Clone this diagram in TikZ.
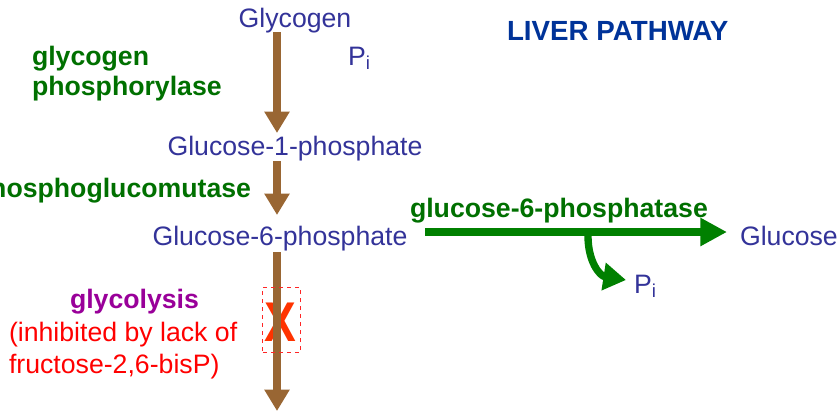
\documentclass[tikz,border=0pt]{standalone}
\usepackage{fontspec}
\setmainfont{Liberation Sans}
\usetikzlibrary{arrows.meta}
\definecolor{txtblue}{RGB}{51,51,153}
\definecolor{hdblue}{RGB}{0,51,153}
\definecolor{enzgreen}{RGB}{0,112,0}
\definecolor{arrgreen}{RGB}{0,128,0}
\definecolor{brownarr}{RGB}{153,102,51}
\definecolor{purp}{RGB}{153,0,153}
\definecolor{xred}{RGB}{255,51,0}
\begin{document}
\begin{tikzpicture}[x=0.75pt,y=-0.75pt,
  every node/.style={inner sep=0pt,outer sep=0pt,font=\fontsize{20}{24}\selectfont},
  metab/.style={text=txtblue},
  enz/.style={text=enzgreen,font=\fontsize{20}{24}\selectfont\bfseries},
  brownline/.style={draw=brownarr,line width=5.8pt,-{Triangle[width=18pt,length=16pt]}},
  greenline/.style={draw=arrgreen,line width=5.5pt,-{Triangle[width=20pt,length=20pt]}}]
\useasboundingbox (0,0) rectangle (838,412);
% metabolites
\node[metab,anchor=base] (glycogen) at (295,27) {Glycogen};
\node[metab,anchor=base west] (pi1) at (348,65) {P\textsubscript{i}};
\node[metab,anchor=base] (g1p) at (295,155) {Glucose-1-phosphate};
\node[metab,anchor=base] (g6p) at (280,245) {Glucose-6-phosphate};
\node[metab,anchor=base west] (glucose) at (740,245) {Glucose};
\node[metab,anchor=base west] (pi2) at (634,293) {P\textsubscript{i}};
% title
\node[anchor=base west,text=hdblue,font=\fontsize{20.8}{24}\selectfont\bfseries] (title) at (507,40) {LIVER PATHWAY};
% enzymes
\node[enz,anchor=base west] (gp1) at (32,65) {glycogen};
\node[enz,anchor=base west] (gp2) at (32,95) {phosphorylase};
\node[enz,anchor=base east] (pgm) at (251,197) {phosphoglucomutase};
\node[enz,anchor=base west] (g6pase) at (410,217) {glucose-6-phosphatase};
\node[anchor=base west,text=purp,font=\fontsize{20}{24}\selectfont\bfseries] (glyc) at (70,308) {glycolysis};
\node[anchor=base west,text=red] (inh1) at (9,341) {(inhibited by lack of};
\node[anchor=base west,text=red] (inh2) at (9,373) {fructose-2,6-bisP)};
% coordinates
\coordinate (a1s) at (277,32);
\coordinate (a1e) at (277,133);
\coordinate (a2s) at (277,161);
\coordinate (a2e) at (277,215);
\coordinate (a3s) at (277,252);
\coordinate (a3e) at (277,411);
\coordinate (gs) at (425,232);
\coordinate (ge) at (727,232);
\coordinate (cs) at (588,236);
\coordinate (ce) at (626,280);
% arrows
\draw[brownline] (a1s) -- (a1e);
\draw[brownline] (a2s) -- (a2e);
\draw[brownline] (a3s) -- (a3e);
\draw[greenline] (gs) -- (ge);
\draw[draw=arrgreen,line width=5.5pt,-{Triangle[width=20pt,length=17pt]}] (cs) .. controls (588,262) and (600,276) .. (ce);
% inhibition box and X
\node[draw=red!85!white,dashed,line width=0.8pt,minimum width=28pt,minimum height=49pt] (box) at (281.5,320) {};
\node[text=xred,font=\fontsize{42}{42}\selectfont\bfseries,xscale=0.85] (xmark) at (280,322) {X};
\draw[brownarr,line width=5.8pt] (277,290) -- (277,352);
\end{tikzpicture}
\end{document}
